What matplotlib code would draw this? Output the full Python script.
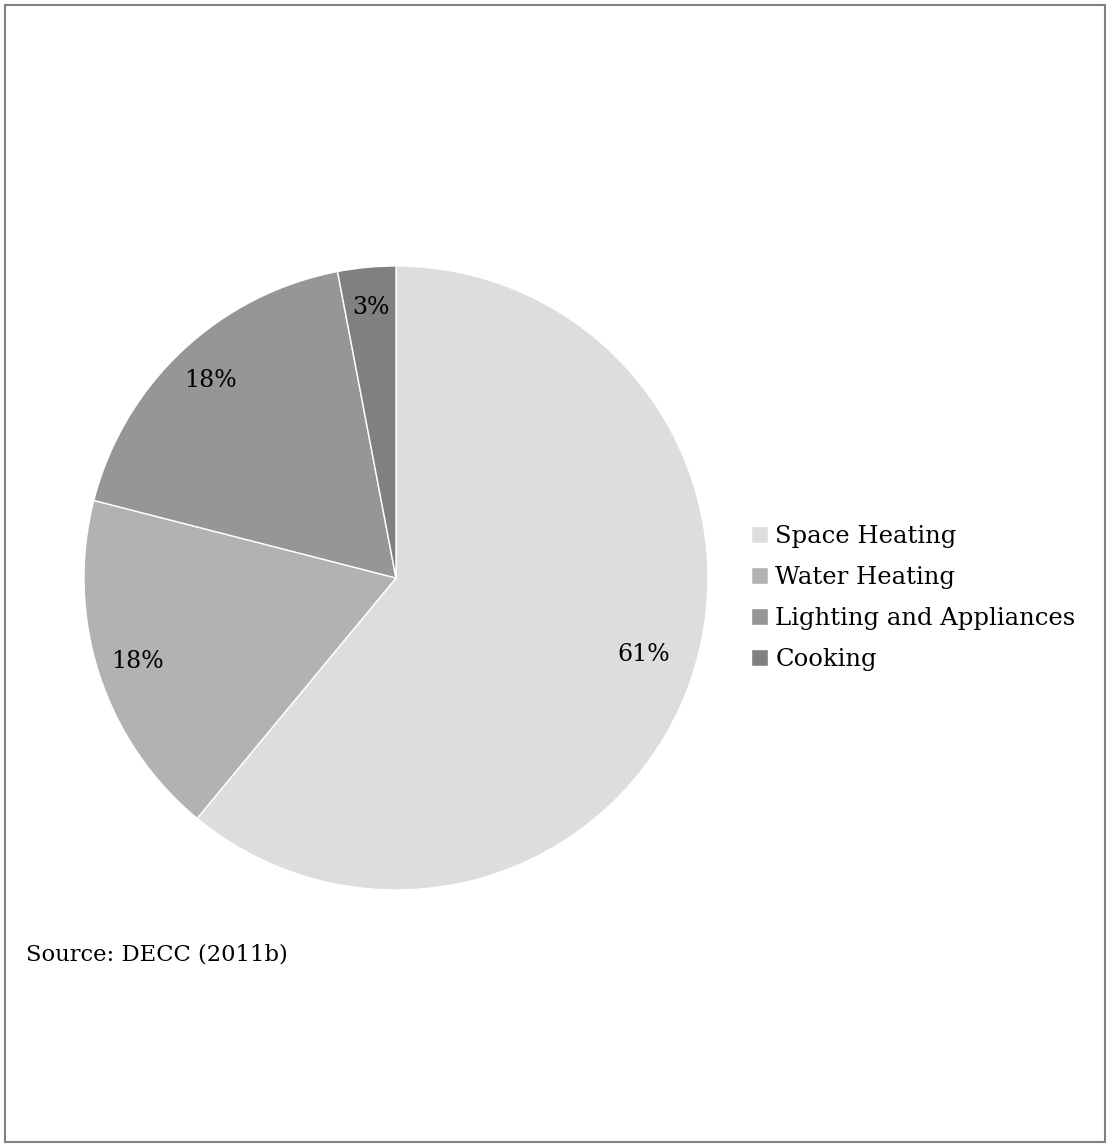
import matplotlib.pyplot as plt
from matplotlib.patches import Rectangle

labels = ["Space Heating", "Water Heating", "Lighting and Appliances", "Cooking"]
shares = [61, 18, 18, 3]
colors = ["#dddddd", "#b2b2b2", "#969696", "#808080"]

plt.rcParams["font.family"] = ["DejaVu Serif"]

fig = plt.figure(figsize=(11.11, 11.47), dpi=100)
ax = fig.add_axes([84 / 1111, 1 - 890 / 1147, 624 / 1111, 624 / 1147])

wedges, texts, autotexts = ax.pie(
    shares, colors=colors, startangle=90, counterclock=False,
    autopct="%d%%", pctdistance=0.87,
    wedgeprops=dict(edgecolor="white", linewidth=1),
    textprops=dict(fontsize=17, color="black"),
)
# the big slice label sits a bit higher and further in
x, y = autotexts[0].get_position()
autotexts[0].set_position((x * 0.97, y * 0.83))

ax.set_aspect("equal")
ax.set_xlim(-1, 1)
ax.set_ylim(-1, 1)

fig.legend(wedges, labels, loc="center left", bbox_to_anchor=(729 / 1111, 1 - 598 / 1147),
           frameon=False, fontsize=17.5, handlelength=0.7, handleheight=0.7,
           handletextpad=0.3, labelspacing=0.74)

fig.text(26 / 1111, 1 - 955 / 1147, "Source: DECC (2011b)", fontsize=16.3, va="center", ha="left")

fig.patches.append(Rectangle((5 / 1111, 5 / 1147), 1100 / 1111, 1137 / 1147,
                             transform=fig.transFigure, fill=False,
                             edgecolor="#808080", linewidth=1.5))

fig.savefig("out.png", dpi=100)
